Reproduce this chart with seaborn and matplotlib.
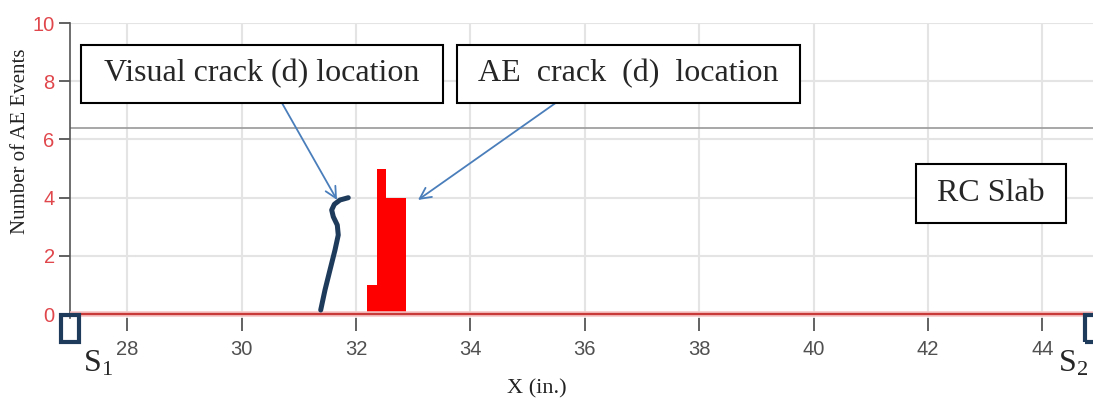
import matplotlib
matplotlib.use("Agg")
import matplotlib.pyplot as plt
from matplotlib import font_manager
from matplotlib.patches import Rectangle
import seaborn as sns

# AE event histogram along the slab (x in inches)
bin_edges = [32.20, 32.367, 32.533, 32.70, 32.867]
event_counts = [1, 5, 4, 4]
bin_centers = [(a + b) / 2 for a, b in zip(bin_edges[:-1], bin_edges[1:])]

# hand-traced visual crack path
crack_x = [31.383, 31.458, 31.545, 31.633, 31.690, 31.673, 31.603, 31.575, 31.621, 31.720, 31.865]
crack_y = [0.137, 0.825, 1.512, 2.199, 2.715, 3.058, 3.344, 3.574, 3.770, 3.918, 3.997]

# sensor positions
sensor_x = [27.0, 44.91]
sensor_names = ["S$_1$", "S$_2$"]

x_ticks = [28, 30, 32, 34, 36, 38, 40, 42, 44]
y_ticks = [0, 2, 4, 6, 8, 10]
threshold_level = 6.38

sns.set_style("white")
installed = {f.name for f in font_manager.fontManager.ttflist}
tick_font = "Liberation Sans Narrow" if "Liberation Sans Narrow" in installed else "Liberation Sans"
serif = "Liberation Serif"
plt.rcParams["font.family"] = [serif, "DejaVu Serif"]
plt.rcParams["mathtext.fontset"] = "custom"
plt.rcParams["mathtext.rm"] = serif
plt.rcParams["mathtext.it"] = serif

W, H = 1093, 405
fig = plt.figure(figsize=(W / 100, H / 100), dpi=100)
ax = fig.add_axes([70 / W, 0.2160, 1 - 70 / W, 0.7272])
ax.set_xlim(27, 44.885)
ax.set_ylim(-0.12, 10)

# grid
for xv in x_ticks:
    ax.axvline(xv, color="#e4e4e4", lw=1.5, zorder=0)
for yv in y_ticks[1:]:
    ax.axhline(yv, color="#e4e4e4", lw=1.5, zorder=0)
ax.axhline(threshold_level, color="#a0a0a0", lw=1.3, zorder=1)

# histogram bars
sns.histplot(x=bin_centers, weights=event_counts, bins=bin_edges, ax=ax,
             color="#ff0000", alpha=1, edgecolor="none", linewidth=0, zorder=3)

# zero line
ax.axhline(0, color="#f6c4c4", lw=4, zorder=3.5)
ax.axhline(0, color="#c83a3a", lw=1.6, zorder=4)

# visual crack trace
sns.lineplot(x=crack_x, y=crack_y, sort=False, estimator=None, ax=ax,
             color="#1f3b5c", lw=3.6, solid_capstyle="round", zorder=5)

ax.set_xlabel("")
ax.set_ylabel("")
ax.set_xticks(x_ticks)
ax.set_yticks(y_ticks)
for s in ["top", "right", "bottom"]:
    ax.spines[s].set_visible(False)
ax.spines["left"].set_color("#555555")
ax.spines["left"].set_linewidth(1.2)
ax.tick_params(axis="x", bottom=True, direction="out", length=9, width=1.3, color="#555555",
               pad=7, labelsize=14.5, labelcolor="#505050")
ax.tick_params(axis="y", left=True, direction="out", length=8, width=1.3, color="#555555",
               pad=3, labelsize=14.5, labelcolor="#e0474c")
for lab in ax.get_xticklabels() + ax.get_yticklabels():
    lab.set_fontfamily(tick_font)

# sensors
for sx, name in zip(sensor_x, sensor_names):
    ax.add_patch(Rectangle((sx - 0.166, -0.962), 0.332, 0.928, fill=False,
                           edgecolor="#1f3b5c", lw=3, clip_on=False, zorder=6))
fig.text(83 / W, 1 - 372 / H, sensor_names[0], fontsize=23, ha="left", va="baseline")
fig.text(1058 / W, 1 - 372 / H, sensor_names[1], fontsize=23, ha="left", va="baseline")

# axis titles
fig.text(537 / W, 1 - 389 / H, "X (in.)", fontsize=16, ha="center", va="center", color="#222222")
fig.text(21 / W, 1 - 141 / H, "Number of AE Events", fontsize=15, rotation=90,
         ha="center", va="center", color="#222222")

# callout boxes
def callout(x0, x1, y0, y1, label):
    fig.patches.append(Rectangle((x0 / W, 1 - y1 / H), (x1 - x0) / W, (y1 - y0) / H,
                                 transform=fig.transFigure, facecolor="white",
                                 edgecolor="black", lw=1.5, zorder=7))
    fig.text((x0 + x1) / 2 / W, 1 - (y0 + y1) / 2 / H, label, fontsize=23,
             ha="center", va="center", zorder=8)

callout(81, 443, 45, 103, "Visual crack (d) location")
callout(457, 800, 45, 103, "AE  crack  (d)  location")
callout(916, 1066, 164, 223, "RC Slab")

arrow = dict(arrowstyle="->", color="#4a7ebb", lw=1.3, mutation_scale=20,
             shrinkA=0, shrinkB=0)
ax.annotate("", xy=(31.668, 3.92), xytext=(30.706, 7.25), arrowprops=arrow, zorder=9)
ax.annotate("", xy=(33.084, 3.92), xytext=(35.514, 7.285), arrowprops=arrow, zorder=9)

fig.savefig("out.png", dpi=100)
